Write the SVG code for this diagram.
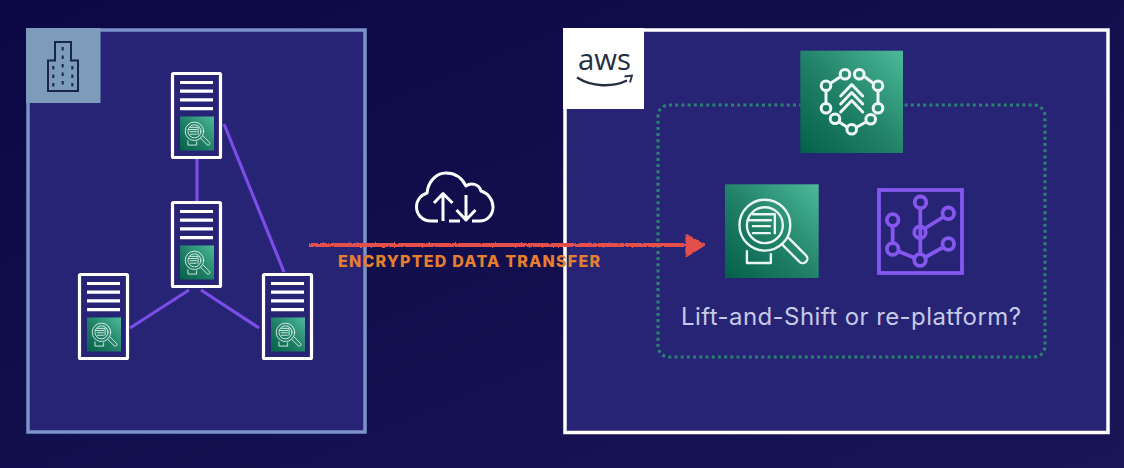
<svg xmlns="http://www.w3.org/2000/svg" xmlns:xlink="http://www.w3.org/1999/xlink" width="1124" height="468" viewBox="0 0 1124 468">
<style>
.panel{fill:#272475}
.conn{stroke:#7a4de8;stroke-width:3.2;fill:none}
.ic{fill:none;stroke:#eaf6f1;stroke-width:2.4;stroke-linecap:round;stroke-linejoin:round}
.hub{fill:none;stroke:#eef8f4;stroke-width:3;stroke-linecap:round;stroke-linejoin:round}
.pu{fill:none;stroke:#8557ee;stroke-width:3.8}
.cl{fill:none;stroke:#fff;stroke-width:3;stroke-linecap:butt;stroke-linejoin:round}
text{font-family:Inter,"Liberation Sans",sans-serif}
</style>
<defs>
<linearGradient id="bg" x1="0" y1="0" x2="1" y2="1"><stop offset="0" stop-color="#0b0845"/><stop offset="1" stop-color="#1a1656"/></linearGradient>
<linearGradient id="gr" x1="0" y1="1" x2="1" y2="0"><stop offset="0" stop-color="#04604a"/><stop offset="0.5" stop-color="#228369"/><stop offset="1" stop-color="#4dba9a"/></linearGradient>
<filter id="chalk" x="-2%" y="-40%" width="104%" height="180%"><feTurbulence type="fractalNoise" baseFrequency="0.35" numOctaves="2" seed="4"/><feDisplacementMap in="SourceGraphic" scale="2.500" xChannelSelector="R" yChannelSelector="G"/></filter>
<symbol id="mag" viewBox="0 0 94 94" overflow="visible">
<rect width="94" height="94" fill="url(#gr)"/>
<circle class="ic" cx="40" cy="41" r="25.500"/>
<circle class="ic" cx="40" cy="41" r="18"/>
<path class="ic" d="M28 30H50V49M24 36H46M28 42H45M28 49H45"/>
<path class="ic" d="M57 60L75 78A4.600 4.600 0 0 0 81 71L64 54"/>
<path class="ic" d="M22 67V79H46V70"/>
</symbol>
<g id="srv">
<rect x="1.500" y="1.500" width="48" height="84" fill="#272475" stroke="#fff" stroke-width="3.200" rx="1"/>
<path d="M9 10.500H42M9 19.200H42M9 27.900H42M9 36.600H42" stroke="#fff" stroke-width="3.200" fill="none"/>
<use xlink:href="#mag" href="#mag" x="9" y="44.500" width="34" height="34"/>
</g>
</defs>
<rect width="1124" height="468" fill="url(#bg)"/>
<g id="on-premises">
<rect class="panel" x="28" y="30" width="337" height="402" stroke="#7b93c9" stroke-width="3.500"/>
<rect x="26" y="28" width="74.500" height="75" fill="#7d9bbb"/>
<g fill="none" stroke="#17274a" stroke-width="2">
<path d="M48 91V60.500H55V42H71V60.500H78V91Z"/>
<path d="M62.700 47V89M53.300 66V89M72.300 66V89" stroke-dasharray="3.500 5"/>
</g>
</g>
<g id="aws-cloud">
<rect class="panel" x="565" y="30" width="543" height="402.500" stroke="#fff" stroke-width="3.500"/>
<rect x="563" y="28" width="81" height="81" fill="#fff"/>
<text x="578" y="70" font-size="30" fill="#232f3e" textLength="53" lengthAdjust="spacingAndGlyphs" style="font-family:'Open Sans',sans-serif">aws</text>
<path d="M577 77.500C592 87 612 87.500 627 80.500" fill="none" stroke="#232f3e" stroke-width="2.400"/>
<path d="M624.500 76.500L632 75.500L630 82.500" fill="none" stroke="#232f3e" stroke-width="1.800"/>
<rect x="658" y="105" width="387" height="252" rx="11" fill="none" stroke="#2a8172" stroke-width="3.200" stroke-dasharray="3 3.200"/>
</g>
<g id="connectors">
<path class="conn" d="M197 159V201M224 124L284 272M189 290L130 328M201 290L259 328"/>
</g>
<g id="server-top"><use xlink:href="#srv" href="#srv" x="171" y="72"/></g>
<g id="server-middle"><use xlink:href="#srv" href="#srv" x="171" y="201"/></g>
<g id="server-left"><use xlink:href="#srv" href="#srv" x="78" y="273"/></g>
<g id="server-right"><use xlink:href="#srv" href="#srv" x="262" y="273"/></g>
<g id="cloud-transfer">
<path class="cl" d="M438 221H431C422 221 416.500 214 416.500 207C416.500 200 421 195 427 193C428 182 436 173 446 173C455 173 462 178 466 186C471 182 479 184 481 191C488 193 493 200 493 207C493 215 487 221 480 221H472M449 221H460"/>
<path class="cl" d="M443 221V194M434 203L443 193.500L452.500 203M466 195V219M456.500 210L466 220L475.500 210"/>
</g>
<g id="transfer-arrow" filter="url(#chalk)">
<path d="M309 245H687" stroke="#e4504c" stroke-width="3.800" fill="none"/>
<path d="M686 234L705 245L686 257Z" fill="#e4504c" stroke="#e4504c" stroke-width="1" stroke-linejoin="round"/>
</g>
<text x="338" y="267" font-size="16" font-weight="800" fill="#e67f2d" textLength="262">ENCRYPTED DATA TRANSFER</text>
<g id="migration-hub">
<rect x="800.300" y="50.700" width="102.700" height="102.300" fill="url(#gr)"/>
<g class="hub">
<path d="M840 77L831 83M865 77L873 83M826 91V103M878 91V103M839 122L847 127M866 122L857 127"/>
<path d="M840.700 96L851.700 84.500L862.700 96M840.700 104L851.700 92.500L862.700 104M840.700 112L851.700 100.500L862.700 112"/>
<circle cx="845" cy="74.300" r="4.800"/><circle cx="859.300" cy="74.300" r="4.800"/>
<circle cx="826" cy="85.700" r="4.800"/><circle cx="878" cy="85.700" r="4.800"/>
<circle cx="826" cy="108.300" r="4.800"/><circle cx="878" cy="108.300" r="4.800"/>
<circle cx="835" cy="118.700" r="4.800"/><circle cx="870.700" cy="119.300" r="4.800"/>
<circle cx="851.700" cy="129.300" r="4.800"/>
</g>
</g>
<g id="discovery-service"><use xlink:href="#mag" href="#mag" x="725" y="184.300" width="93.700" height="93.700"/></g>
<g id="purple-service" class="pu">
<rect x="879" y="190" width="83" height="83"/>
<path d="M920.300 207.800V254.500M924 229L944 216.500M892.700 225.500V243.500M897.500 251L915 258M925 257.500L943.500 247"/>
<circle cx="920.500" cy="202.300" r="5.800"/><circle cx="948.300" cy="213.300" r="5.800"/>
<circle cx="892.700" cy="220" r="5.800"/><circle cx="920" cy="232.300" r="5.800"/>
<circle cx="948.300" cy="244" r="5.800"/><circle cx="892.700" cy="249" r="5.800"/>
<circle cx="920" cy="260" r="5.800"/>
</g>
<text x="681" y="325" font-size="24" fill="#c6cae6" textLength="340">Lift-and-Shift or re-platform?</text>
</svg>
